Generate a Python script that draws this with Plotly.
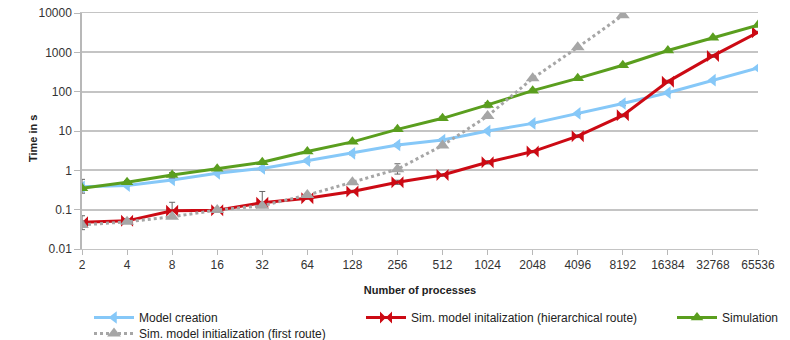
import plotly.graph_objects as go

# Number of processes (x) and measured times in seconds (y)
processes = [2, 4, 8, 16, 32, 64, 128, 256, 512, 1024, 2048, 4096, 8192, 16384, 32768, 65536]
tick_labels = [str(p) for p in processes]

model_creation = [0.38, 0.41, 0.57, 0.84, 1.12, 1.75, 2.7, 4.4, 5.9, 10, 15.6, 28, 50, 94, 196, 400]
model_creation_err = [0.04, 0.02, 0.03, 0.04, 0.1, 0.15, 0.25, 0.4, 0.5, 0.6, 0.8, 1.5, 6, 5, 8, 15]

hier_init = [0.048, 0.052, 0.094, 0.097, 0.15, 0.195, 0.29, 0.50, 0.76, 1.6, 3.0, 7.4, 25, 180, 810, 3230]
hier_init_err = [0.022, 0.006, 0.06, 0.01, 0.14, 0.01, 0.02, 0.06, 0.05, 0.15, 0.2, 0.6, 2, 15, 60, 200]

simulation = [0.35, 0.50, 0.76, 1.1, 1.6, 3.0, 5.3, 11, 21, 46, 106, 218, 470, 1110, 2350, 4930]
simulation_err = [0.24, 0.05, 0.12, 0.08, 0.1, 0.2, 0.3, 0.8, 2.5, 7, 10, 10, 30, 60, 120, 300]

first_init = [0.041, 0.049, 0.066, 0.098, 0.126, 0.235, 0.50, 1.07, 4.3, 24, 218, 1340, 8800]
first_init_err = [0.01, 0.004, 0.005, 0.006, 0.01, 0.02, 0.03, 0.4, 0.3, 2, 10, 60, 300]

FONT = "Liberation Sans, Arial, sans-serif"


def err_bars(values, errs):
    # upper whisker as measured, lower whisker kept short so it stays on the log scale
    minus = [min(e, 0.25 * v) for v, e in zip(values, errs)]
    return dict(type="data", visible=True, symmetric=False, array=errs, arrayminus=minus,
                color="#666666", thickness=1, width=3)


fig = go.Figure()

fig.add_trace(go.Scatter(
    x=processes, y=model_creation, name="Model creation", mode="lines+markers",
    line=dict(color="#86c8f8", width=3),
    marker=dict(symbol="triangle-left", size=11, color="#86c8f8"),
    error_y=err_bars(model_creation, model_creation_err), legend="legend",
))
fig.add_trace(go.Scatter(
    x=processes, y=hier_init, name="Sim. model initalization (hierarchical route)",
    mode="lines+markers",
    line=dict(color="#cc0a14", width=3),
    marker=dict(symbol="bowtie", size=12, color="#cc0a14"),
    error_y=err_bars(hier_init, hier_init_err), legend="legend2",
))
fig.add_trace(go.Scatter(
    x=processes, y=simulation, name="Simulation", mode="lines+markers",
    line=dict(color="#5a9e1e", width=3),
    marker=dict(symbol="triangle-up", size=11, color="#5a9e1e"),
    error_y=err_bars(simulation, simulation_err), legend="legend3",
))
fig.add_trace(go.Scatter(
    x=processes[:len(first_init)], y=first_init,
    name="Sim. model initialization (first route)", mode="lines+markers",
    line=dict(color="#a6a6a6", width=3, dash="dot"),
    marker=dict(symbol="triangle-up", size=12, color="#a6a6a6"),
    error_y=err_bars(first_init, first_init_err), legend="legend4",
))

legend_common = dict(
    orientation="v", xanchor="left", yanchor="top", yref="container", xref="container",
    font=dict(family=FONT, size=12, color="#222222"),
    bgcolor="rgba(0,0,0,0)", itemwidth=40, tracegroupgap=0,
)
row1 = 1 - 303 / 340
row2 = 1 - 319 / 340

fig.update_layout(
    width=790, height=340,
    margin=dict(l=82, r=32, t=13, b=91, autoexpand=False),
    paper_bgcolor="white", plot_bgcolor="white",
    font=dict(family=FONT, size=12, color="#333333"),
    showlegend=True,
    legend=dict(x=89 / 790, y=row1, **legend_common),
    legend2=dict(x=361 / 790, y=row1, **legend_common),
    legend3=dict(x=672 / 790, y=row1, **legend_common),
    legend4=dict(x=89 / 790, y=row2, **legend_common),
    xaxis=dict(
        type="log", range=[0.30103, 4.81648],
        tickvals=processes, ticktext=tick_labels,
        ticks="outside", ticklen=5, tickcolor="#b8b8b8",
        showgrid=False, showline=True, linecolor="#c4c4c4", linewidth=1, mirror=True,
        tickfont=dict(family=FONT, size=12, color="#333333"),
        title=dict(text="<b>Number of processes</b>", standoff=14,
                   font=dict(family=FONT, size=11, color="#222222")),
        zeroline=False, automargin=True,
    ),
    yaxis=dict(
        type="log", range=[-2, 4],
        tickvals=[0.01, 0.1, 1, 10, 100, 1000, 10000],
        ticktext=["0.01", "0.1", "1", "10", "100", "1000", "10000"],
        ticks="outside", ticklen=6, tickcolor="#b8b8b8",
        showgrid=True, gridcolor="#c4c4c4", gridwidth=1.5,
        showline=True, linecolor="#b8b8b8", linewidth=1.5,
        tickfont=dict(family=FONT, size=12, color="#333333"),
        zeroline=False,
    ),
    annotations=[dict(
        text="<b>Time in s</b>", xref="paper", yref="paper",
        x=(33 - 82) / 676, y=0.466, xanchor="center", yanchor="middle",
        textangle=-90, showarrow=False,
        font=dict(family=FONT, size=11, color="#222222"),
    )],
)

fig.write_html("out.html")
